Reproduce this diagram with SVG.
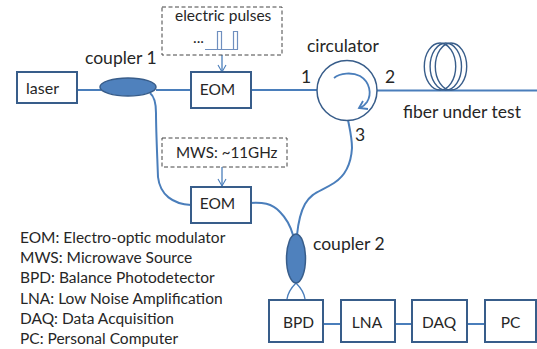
<svg xmlns="http://www.w3.org/2000/svg" width="537" height="349" viewBox="0 0 537 349">
<style>
text{font-family:"Lato","Open Sans","Liberation Sans",sans-serif;fill:#262626}
.t{font-size:17.500px}.b{font-size:15.500px;text-anchor:middle}.l{font-size:15.500px}
.box{fill:#fff;stroke:#385d8a;stroke-width:2}
.dash{fill:#fff;stroke:#444;stroke-width:1;stroke-dasharray:4 2.5}
.c{fill:none;stroke:#4a7ebb;stroke-width:2}
.f{fill:none;stroke:#4a7ebb;stroke-width:1.3}
.coil{fill:none;stroke:#385d8a;stroke-width:1.4}
.cpl{fill:#4f81bd;stroke:#385d8a;stroke-width:1.5}
</style>
<defs>
<marker id="a" markerWidth="10" markerHeight="10" refX="8" refY="5" orient="auto" markerUnits="userSpaceOnUse"><path d="M1 1L8 5L1 9" fill="none" stroke="#4a7ebb" stroke-width="1.1"/></marker>
</defs>
<rect width="537" height="349" fill="#fff"/>
<g id="connectors">
<path class="c" d="M77 90H101M156 90H191M251 90H317M377 90.500H537"/>
<path class="c" d="M150 93C155 97 156 105 156 113C156 130 157 150 158 177C160 195 173 204 191 205"/>
<path class="c" d="M249 203C262 202 272 203 280 212C288 220 291 228 293 235"/>
<path class="c" d="M348 120C350 130 352 138 352 148C351 165 345 176 334 183C320 192 312 192 305 204C300 213 298 225 297 235"/>
<path class="f" d="M287 299C288 292 291 288 296 283C301 288 304 292 305 299"/>
<path class="c" d="M323 324H341M395 324H412M467 324H485"/>
<path class="f" d="M222 55V72" marker-end="url(#a)"/>
<path class="f" d="M222 167V186" marker-end="url(#a)"/>
</g>
<g id="laser"><rect class="box" x="17" y="72" width="60" height="31"/><text class="b" x="42.500" y="94" style="font-size:16px">laser</text></g>
<g id="coupler1"><ellipse class="cpl" cx="128" cy="87" rx="28" ry="9"/><text class="t" x="85" y="64">coupler 1</text></g>
<g id="pulses">
<rect class="dash" x="162" y="7" width="120" height="48"/>
<text class="l" x="175" y="21">electric pulses</text>
<text class="l" x="193" y="43">...</text>
<path d="M205 49.500H238M217.500 49.500V31.500H221.500V49.500M233.500 49.500V31.500H237.500V49.500" fill="none" stroke="#6f8fbf" stroke-width="1.2"/>
</g>
<g id="eom1"><rect class="box" x="191" y="72" width="60" height="36"/><text class="b" x="217.500" y="95">EOM</text></g>
<g id="circulator">
<circle cx="347" cy="90.500" r="30" fill="#fff" stroke="#385d8a" stroke-width="1.5"/>
<path d="M334 78C340 73 352 72 360 76C370 82 372 94 367 102C365 105 362 107 360 108M363 101L359 108L368 109" fill="none" stroke="#4a7ebb" stroke-width="1.8"/>
<text class="t" x="307" y="52">circulator</text>
<text class="t" x="301" y="83">1</text>
<text class="t" x="385" y="83">2</text>
<text class="t" x="355" y="141">3</text>
</g>
<g id="fiber">
<ellipse class="coil" cx="440" cy="66.500" rx="15.700" ry="23.500"/>
<ellipse class="coil" cx="445.800" cy="66.500" rx="15.700" ry="23.500"/>
<ellipse class="coil" cx="451" cy="66.500" rx="15.700" ry="23.500"/>
<text class="t" x="403" y="118">fiber under test</text>
</g>
<g id="mws"><rect class="dash" x="162" y="138" width="125" height="29"/><text class="l" x="176" y="158" style="font-size:15.200px">MWS: ~11GHz</text></g>
<g id="eom2"><rect class="box" x="191" y="187" width="60" height="36"/><text class="b" x="217.500" y="209">EOM</text></g>
<g id="coupler2"><ellipse class="cpl" cx="296" cy="258.500" rx="9.500" ry="24.500"/><text class="t" x="313" y="250">coupler 2</text></g>
<g id="bpd"><rect class="box" x="269" y="300" width="54" height="42"/><text class="b" x="298.500" y="328">BPD</text></g>
<g id="lna"><rect class="box" x="341" y="300" width="54" height="42"/><text class="b" x="367" y="328">LNA</text></g>
<g id="daq"><rect class="box" x="412" y="300" width="55" height="42"/><text class="b" x="439" y="328">DAQ</text></g>
<g id="pc"><rect class="box" x="485" y="300" width="51" height="42"/><text class="b" x="510.500" y="328">PC</text></g>
<g id="legend">
<text class="l" x="20" y="243">EOM: Electro-optic modulator</text>
<text class="l" x="20" y="263">MWS: Microwave Source</text>
<text class="l" x="20" y="283">BPD: Balance Photodetector</text>
<text class="l" x="20" y="304">LNA: Low Noise Amplification</text>
<text class="l" x="20" y="324">DAQ: Data Acquisition</text>
<text class="l" x="20" y="344">PC: Personal Computer</text>
</g>
</svg>
